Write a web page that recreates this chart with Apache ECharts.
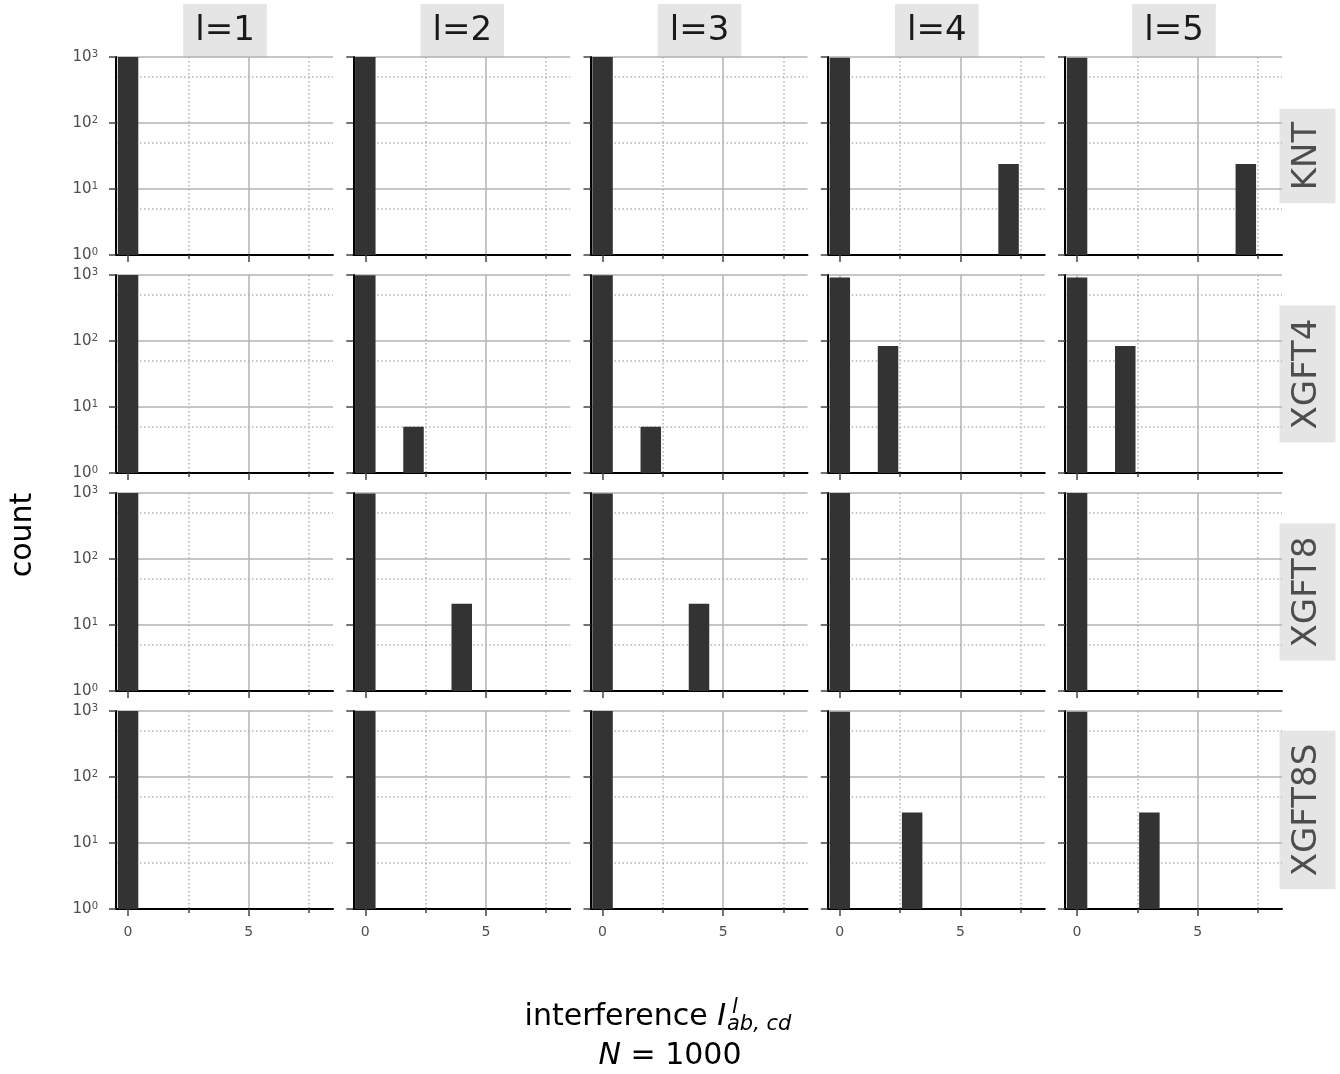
<!DOCTYPE html>
<html>
<head>
<meta charset="utf-8">
<script src="https://cdn.jsdelivr.net/npm/echarts@6/dist/echarts.min.js"></script>
<style>
  html, body { margin: 0; padding: 0; background: #fff; }
  #chart { width: 1340px; height: 1074px; }
</style>
</head>
<body>
<div id="chart"></div>
<script>
// facet labels
const topologies = ['KNT', 'XGFT4', 'XGFT8', 'XGFT8S']
const levels = ['l=1', 'l=2', 'l=3', 'l=4', 'l=5']

// histogram bins per panel: [interference, count], one entry per level
const kntBins = [
  [[0, 1000]],
  [[0, 1000]],
  [[0, 1000]],
  [[0, 976], [7, 24]],
  [[0, 976], [7, 24]]
]
const xgft4Bins = [
  [[0, 1000]],
  [[0, 995], [2, 5]],
  [[0, 995], [2, 5]],
  [[0, 916], [2, 84]],
  [[0, 916], [2, 84]]
]
const xgft8Bins = [
  [[0, 1000]],
  [[0, 979], [4, 21]],
  [[0, 979], [4, 21]],
  [[0, 1000]],
  [[0, 1000]]
]
const xgft8sBins = [
  [[0, 1000]],
  [[0, 1000]],
  [[0, 1000]],
  [[0, 971], [3, 29]],
  [[0, 971], [3, 29]]
]
const panelBins = [kntBins, xgft4Bins, xgft8Bins, xgft8sBins]

// tick values
const xMajorTicks = [0, 5]
const xMinorTicks = [2.5, 7.5]
const yMinorTicks = [5, 50, 500]

const binHalfWidth = 0.425
const gridColor = '#b3b3b3'
const font = 'DejaVu Sans'

const chart = echarts.init(document.getElementById('chart'))

const colLeft = [116, 353.25, 590.5, 827.75, 1065]
const rowTop = [57, 275, 493, 711]
const panelW = 217
const panelH = 198

const grid = []
const xAxis = []
const yAxis = []
const series = []

topologies.forEach((topo, r) => {
  levels.forEach((lvl, c) => {
    const g = grid.length
    const bottomRow = r === topologies.length - 1
    grid.push({ left: colLeft[c], top: rowTop[r], width: panelW, height: panelH })

    // major x axis
    xAxis.push({
      type: 'value', gridIndex: g, position: 'bottom', min: -0.5, max: 8.5,
      axisLine: { onZero: false, lineStyle: { color: '#000', width: 2 } },
      axisTick: { customValues: xMajorTicks, length: 7, lineStyle: { color: '#444', width: 1.5 } },
      axisLabel: {
        show: bottomRow, customValues: xMajorTicks, margin: 16,
        color: '#4d4d4d', fontSize: 14, fontFamily: font
      },
      splitLine: { show: true, lineStyle: { color: gridColor, width: 1.5 } }
    })
    // minor x axis (dotted grid)
    xAxis.push({
      type: 'value', gridIndex: g, position: 'bottom', min: -0.5, max: 8.5,
      axisLine: { show: false },
      axisTick: { customValues: xMinorTicks, length: 4, lineStyle: { color: '#444', width: 1.5 } },
      axisLabel: { show: false },
      splitLine: { show: true, lineStyle: { color: gridColor, width: 1.5, type: [1.5, 2.5] } }
    })

    // log y axis for counts
    yAxis.push({
      type: 'log', logBase: 10, gridIndex: g, position: 'left', min: 1, max: 1000,
      axisLine: { onZero: false, lineStyle: { color: '#000', width: 2 } },
      axisTick: { length: 7, lineStyle: { color: '#444', width: 1.5 } },
      axisLabel: {
        show: c === 0,
        margin: 18,
        formatter: v => '{b|10}{s|' + Math.round(Math.log10(v)) + '}',
        rich: {
          b: { fontSize: 15, lineHeight: 16, color: '#4d4d4d', fontFamily: font },
          s: { fontSize: 10, lineHeight: 10, verticalAlign: 'top', color: '#4d4d4d', fontFamily: font }
        }
      },
      splitLine: { show: true, lineStyle: { color: gridColor, width: 1.5 } }
    })
    // minor y axis in decades (dotted grid at 5 x 10^k)
    yAxis.push({
      type: 'value', gridIndex: g, position: 'left', min: 0, max: 3,
      axisLine: { show: false },
      axisTick: { customValues: yMinorTicks.map(v => Math.log10(v)), length: 4, lineStyle: { color: '#444', width: 1.5 } },
      axisLabel: { show: false },
      splitLine: { show: true, lineStyle: { color: gridColor, width: 1.5, type: [1.5, 2.5] } }
    })

    series.push({
      type: 'custom',
      xAxisIndex: 2 * g,
      yAxisIndex: 2 * g,
      data: panelBins[r][c],
      encode: { x: 0, y: 1 },
      renderItem: (params, api) => {
        const x = api.value(0)
        const p0 = api.coord([x - binHalfWidth, api.value(1)])
        const p1 = api.coord([x + binHalfWidth, 1])
        return {
          type: 'rect',
          shape: { x: p0[0], y: p0[1], width: p1[0] - p0[0], height: p1[1] - p0[1] },
          style: { fill: '#333333' }
        }
      },
      z: 3
    })
  })
})

// strip labels and axis titles
const graphic = []
levels.forEach((lvl, c) => {
  graphic.push({
    type: 'text', x: colLeft[c] + panelW / 2 + 0.5, y: 31,
    style: {
      text: lvl, font: '34px "DejaVu Sans"', lineHeight: 34, fill: '#1a1a1a',
      align: 'center', verticalAlign: 'middle', backgroundColor: '#e5e5e5', padding: [10, 12]
    }
  })
})
topologies.forEach((topo, r) => {
  graphic.push({
    type: 'text', x: 1307.5, y: rowTop[r] + panelH / 2, rotation: Math.PI / 2,
    style: {
      text: topo, font: '34px "DejaVu Sans"', lineHeight: 34, fill: '#4d4d4d',
      align: 'center', verticalAlign: 'middle', backgroundColor: '#e5e5e5', padding: [11, 13]
    }
  })
})
graphic.push({
  type: 'text', x: 23, y: 535, rotation: Math.PI / 2,
  style: { text: 'count', font: '30px "DejaVu Sans"', fill: '#000', align: 'center', verticalAlign: 'middle' }
})
graphic.push({
  type: 'text', x: 726, y: 1017,
  style: {
    text: '{n|interference }{i|I}', align: 'right', verticalAlign: 'middle',
    rich: {
      n: { font: '30px "DejaVu Sans"', fill: '#000' },
      i: { font: 'italic 30px "DejaVu Sans"', fill: '#000' }
    }
  }
})
graphic.push({
  type: 'text', x: 732, y: 1008,
  style: { text: 'l', font: 'italic 21px "DejaVu Sans"', fill: '#000', align: 'left', verticalAlign: 'middle' }
})
graphic.push({
  type: 'text', x: 727, y: 1025,
  style: { text: 'ab, cd', font: 'italic 21px "DejaVu Sans"', fill: '#000', align: 'left', verticalAlign: 'middle' }
})
graphic.push({
  type: 'text', x: 670, y: 1056,
  style: {
    text: '{i|N} = 1000', align: 'center', verticalAlign: 'middle',
    rich: {
      n: { font: '30px "DejaVu Sans"', fill: '#000' },
      i: { font: 'italic 30px "DejaVu Sans"', fill: '#000' }
    },
    font: '30px "DejaVu Sans"', fill: '#000'
  }
})

chart.setOption({
  animation: false,
  textStyle: { fontFamily: font },
  grid,
  xAxis,
  yAxis,
  series,
  graphic
})
</script>
</body>
</html>
